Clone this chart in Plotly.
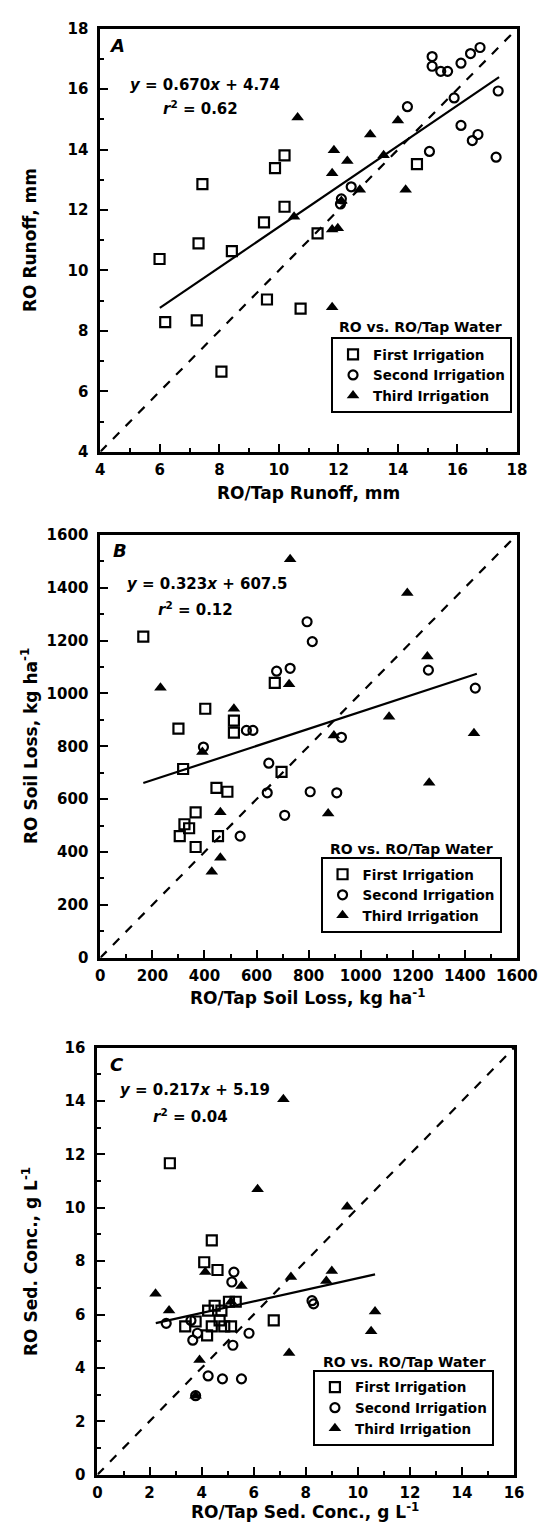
import plotly.graph_objects as go

# ---------------- Data ----------------
# Panel A: runoff (mm)
A_first_x = [5.99, 6.18, 7.24, 7.30, 7.43, 8.42, 8.07, 9.60, 9.50, 9.87, 10.19, 10.19, 10.73, 11.30, 14.64]
A_first_y = [10.38, 8.29, 8.35, 10.90, 12.86, 10.64, 6.65, 9.04, 11.59, 13.39, 13.81, 12.11, 8.74, 11.23, 13.52]
A_second_x = [15.15, 15.15, 15.44, 15.67, 16.12, 16.44, 16.76, 17.37, 15.89, 14.32, 16.12, 16.69, 16.50, 17.30, 15.06, 12.43, 12.10, 12.07]
A_second_y = [17.08, 16.76, 16.59, 16.59, 16.86, 17.18, 17.38, 15.94, 15.71, 15.42, 14.80, 14.50, 14.30, 13.75, 13.94, 12.77, 12.37, 12.20]
A_third_x = [10.63, 13.07, 14.00, 11.85, 12.30, 11.79, 13.52, 14.26, 12.72, 10.51, 11.79, 11.98, 12.10, 11.79]
A_third_y = [15.06, 14.50, 14.96, 13.98, 13.62, 13.22, 13.81, 12.67, 12.67, 11.78, 11.36, 11.40, 12.30, 8.78]
A_fit = (0.670, 4.74)
A_fit_x = [6.0, 17.4]
A_one_x = [4, 18]

# Panel B: soil loss (kg/ha)
B_first_x = [165, 300, 403, 513, 513, 318, 446, 488, 366, 323, 341, 305, 366, 452, 670, 696]
B_first_y = [1215, 867, 942, 852, 897, 714, 643, 628, 550, 505, 490, 460, 419, 460, 1040, 703]
B_second_x = [396, 561, 586, 794, 814, 677, 729, 1260, 1440, 926, 647, 641, 537, 806, 908, 708]
B_second_y = [797, 860, 860, 1271, 1196, 1084, 1095, 1088, 1020, 834, 736, 624, 460, 628, 624, 539]
B_third_x = [231, 513, 729, 1179, 1256, 725, 1109, 897, 1435, 392, 461, 461, 428, 1263, 875]
B_third_y = [1021, 942, 1507, 1380, 1140, 1035, 912, 841, 849, 778, 550, 378, 325, 662, 546]
B_fit = (0.323, 607.5)
B_fit_x = [165, 1446]
B_one_x = [0, 1600]

# Panel C: sediment concentration (g/L)
C_first_x = [2.78, 4.39, 4.10, 4.61, 3.37, 3.77, 4.25, 4.50, 4.76, 4.21, 4.39, 4.69, 4.87, 5.13, 5.05, 5.31, 6.77]
C_first_y = [11.67, 8.78, 7.96, 7.67, 5.56, 5.74, 6.15, 6.33, 6.15, 5.22, 5.56, 5.78, 5.56, 5.56, 6.48, 6.48, 5.78]
C_second_x = [2.64, 3.66, 3.84, 3.59, 4.25, 4.80, 5.53, 3.77, 5.20, 5.82, 5.24, 5.16, 8.24, 8.30]
C_second_y = [5.67, 5.04, 5.30, 5.78, 3.70, 3.59, 3.59, 2.96, 4.85, 5.30, 7.59, 7.22, 6.52, 6.40]
C_third_x = [7.14, 6.15, 9.59, 9.00, 7.43, 8.79, 10.66, 10.51, 7.36, 2.23, 2.75, 3.92, 3.77, 5.53, 4.14, 5.13]
C_third_y = [14.07, 10.70, 10.04, 7.63, 7.41, 7.26, 6.11, 5.37, 4.56, 6.78, 6.15, 4.30, 2.96, 7.07, 7.59, 6.48]
C_fit = (0.217, 5.19)
C_fit_x = [2.24, 10.66]
C_one_x = [0, 16]

series_names = ["First Irrigation", "Second Irrigation", "Third Irrigation"]

# ---------------- Layout helpers ----------------
W, H = 557, 1539
def fx(p):
    return p / W
def fy(p):
    return 1 - p / H

FONT = "DejaVu Sans, Liberation Sans, Arial, sans-serif"
BLK = "black"

fig = go.Figure()

panels = [
    dict(ax="", leg="legend",
         first=(A_first_x, A_first_y), second=(A_second_x, A_second_y), third=(A_third_x, A_third_y),
         fit=A_fit, fitx=A_fit_x, one=A_one_x),
    dict(ax="2", leg="legend2",
         first=(B_first_x, B_first_y), second=(B_second_x, B_second_y), third=(B_third_x, B_third_y),
         fit=B_fit, fitx=B_fit_x, one=B_one_x),
    dict(ax="3", leg="legend3",
         first=(C_first_x, C_first_y), second=(C_second_x, C_second_y), third=(C_third_x, C_third_y),
         fit=C_fit, fitx=C_fit_x, one=C_one_x),
]

symbols = [("square-open", 10, 2.2), ("circle-open", 9, 2.2), ("triangle-up", 11, 0)]

for p in panels:
    xa = "x" + p["ax"]
    ya = "y" + p["ax"]
    # 1:1 dashed line
    fig.add_trace(go.Scatter(x=p["one"], y=p["one"], mode="lines", xaxis=xa, yaxis=ya,
                             line=dict(color=BLK, width=2.2, dash="dash"), showlegend=False,
                             hoverinfo="skip"))
    # regression line
    m, b = p["fit"]
    fig.add_trace(go.Scatter(x=p["fitx"], y=[m * v + b for v in p["fitx"]], mode="lines",
                             xaxis=xa, yaxis=ya, line=dict(color=BLK, width=2.2),
                             showlegend=False, hoverinfo="skip"))
    for (xs, ys), name, (sym, sz, lw) in zip([p["first"], p["second"], p["third"]], series_names, symbols):
        fig.add_trace(go.Scatter(x=xs, y=ys, mode="markers", name=name, xaxis=xa, yaxis=ya,
                                 legend=p["leg"],
                                 marker=dict(symbol=sym, size=sz, color=BLK,
                                             line=dict(color=BLK, width=lw))))

def axis_common():
    return dict(showgrid=False, zeroline=False, showline=True, linecolor=BLK, linewidth=3,
                mirror=True, ticks="inside", ticklen=8, tickwidth=2, tickcolor=BLK,
                tickfont=dict(family=FONT, size=15, color=BLK, weight="bold"))

def minor(d):
    return dict(dtick=d, tick0=0, ticks="inside", ticklen=4, tickwidth=2, tickcolor=BLK)

# domains in pixels
domA = dict(x=(100, 537), y=(20, 448))
domB = dict(x=(100, 537), y=(532, 960))
domC = dict(x=(97, 534), y=(1051, 1483))

def xd(d):
    return [fx(d["x"][0]), fx(d["x"][1])]
def yd(d):
    return [fy(d["y"][1]), fy(d["y"][0])]

fig.update_layout(
    width=W, height=H, margin=dict(l=0, r=0, t=0, b=0),
    paper_bgcolor="white", plot_bgcolor="white",
    font=dict(family=FONT, color=BLK),
    xaxis=dict(domain=xd(domA), anchor="y", range=[4, 18], dtick=2, tick0=0, minor=minor(1),
               ticklabelstandoff=2, **axis_common()),
    yaxis=dict(domain=yd(domA), anchor="x", range=[4, 18], dtick=2, tick0=0, minor=minor(1),
               ticklabelstandoff=6, **axis_common()),
    xaxis2=dict(domain=xd(domB), anchor="y2", range=[0, 1600], dtick=200, tick0=0, minor=minor(100),
                ticklabelstandoff=2, **axis_common()),
    yaxis2=dict(domain=yd(domB), anchor="x2", range=[0, 1600], dtick=200, tick0=0, minor=minor(100),
                ticklabelstandoff=6, **axis_common()),
    xaxis3=dict(domain=xd(domC), anchor="y3", range=[0, 16], dtick=2, tick0=0, minor=minor(1),
                ticklabelstandoff=2, **axis_common()),
    yaxis3=dict(domain=yd(domC), anchor="x3", range=[0, 16], dtick=2, tick0=0, minor=minor(1),
                ticklabelstandoff=6, **axis_common()),
)

def legend_cfg(left, top):
    return dict(x=fx(left), y=fy(top), xanchor="left", yanchor="top",
                bgcolor="white", bordercolor=BLK, borderwidth=2,
                font=dict(family=FONT, size=13.5, color=BLK, weight="bold"),
                itemwidth=30, tracegroupgap=0)

fig.update_layout(legend=legend_cfg(342, 332), legend2=legend_cfg(331, 858),
                  legend3=legend_cfg(323, 1377))

annots = []
def txt(x, y, s, size, angle=0, xanchor="center"):
    annots.append(dict(x=fx(x), y=fy(y), xref="paper", yref="paper", text=s, showarrow=False,
                       xanchor=xanchor, yanchor="middle", textangle=angle,
                       font=dict(family=FONT, size=size, color=BLK, weight="bold")))

# panel letters
txt(118, 37, "<i>A</i>", 18)
txt(121, 548, "<i>B</i>", 18)
txt(117, 1068, "<i>C</i>", 18)
# regression equations
txt(210, 77, "<i>y</i> = 0.670<i>x</i> + 4.74", 15)
txt(205, 100, "<i>r</i><sup>2</sup> = 0.62", 15)
txt(212, 582, "<i>y</i> = 0.323<i>x</i> + 607.5", 15)
txt(200, 607, "<i>r</i><sup>2</sup> = 0.12", 15)
txt(199, 1094, "<i>y</i> = 0.217<i>x</i> + 5.19", 15)
txt(195, 1120, "<i>r</i><sup>2</sup> = 0.04", 15)
# legend titles (above the legend boxes)
txt(436, 322, "RO vs. RO/Tap Water", 14)
txt(426, 850, "RO vs. RO/Tap Water", 14)
txt(419, 1369, "RO vs. RO/Tap Water", 14)
# axis titles
txt(318, 490, "RO/Tap Runoff, mm", 17)
txt(26, 234, "RO Runoff, mm", 17, angle=-90)
txt(318, 1000, "RO/Tap Soil Loss, kg ha<sup>-1</sup>", 17)
txt(26, 746, "RO Soil Loss, kg ha<sup>-1</sup>", 17, angle=-90)
txt(315, 1520, "RO/Tap Sed. Conc., g L<sup>-1</sup>", 17)
txt(26, 1267, "RO Sed. Conc., g L<sup>-1</sup>", 17, angle=-90)

fig.update_layout(annotations=annots)

fig.write_html("out.html", config={"displayModeBar": False},
               post_script="document.documentElement.style.margin='0';document.body.style.margin='0';document.body.style.padding='0';document.documentElement.style.overflow='hidden';")
